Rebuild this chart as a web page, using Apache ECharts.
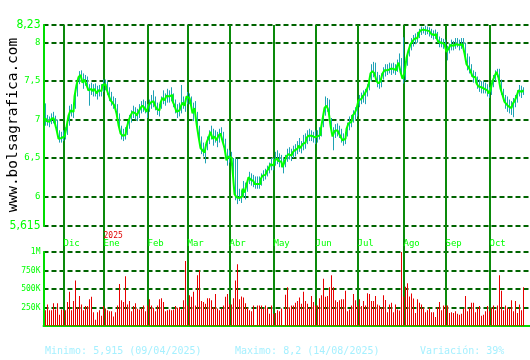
<!DOCTYPE html>
<html><head><meta charset="utf-8">
<script src="https://cdn.jsdelivr.net/npm/echarts@6/dist/echarts.min.js"></script>
<style>html,body{margin:0;padding:0;background:#fff}#c{width:530px;height:360px}</style>
</head><body><div id="c"></div>
<script>
// Daily closes (Nov 2024 - Oct 2025)
const closes = [
7.02,6.98,6.97,7.00,7.02,6.97,6.87,6.75,6.76,6.78,
6.80,6.90,7.05,7.12,7.10,7.30,7.45,7.55,7.58,7.48,
7.52,7.45,7.38,7.40,7.37,7.40,7.34,7.38,7.37,7.45,
7.46,7.40,7.32,7.25,7.22,7.18,7.08,6.93,6.82,6.79,
6.80,6.88,6.98,7.05,7.10,7.08,7.05,7.10,7.15,7.18,
7.15,7.10,7.18,7.22,7.24,7.20,7.14,7.12,7.22,7.28,
7.25,7.31,7.30,7.32,7.24,7.18,7.10,7.12,7.16,7.22,
7.18,7.30,7.28,7.22,7.08,7.15,6.95,6.78,6.63,6.60,
6.57,6.70,6.76,6.84,6.75,6.78,6.73,6.79,6.82,6.72,
6.63,6.47,6.52,6.50,6.35,6.03,5.99,5.98,6.00,6.10,
6.05,6.15,6.25,6.22,6.20,6.16,6.16,6.16,6.22,6.27,
6.28,6.32,6.36,6.42,6.40,6.47,6.49,6.46,6.45,6.38,
6.45,6.52,6.55,6.53,6.57,6.60,6.62,6.66,6.63,6.68,
6.70,6.76,6.79,6.79,6.77,6.76,6.78,6.80,6.85,7.00,
7.15,7.18,7.12,6.92,6.78,6.85,6.86,6.83,6.78,6.73,
6.75,6.88,6.95,6.97,7.05,7.08,7.14,7.25,7.27,7.30,
7.33,7.38,7.45,7.60,7.63,7.60,7.50,7.47,7.50,7.60,
7.64,7.64,7.66,7.65,7.66,7.64,7.68,7.74,7.62,7.53,
7.60,7.80,7.90,7.98,8.02,8.05,8.06,8.12,8.16,8.17,
8.16,8.17,8.15,8.12,8.10,8.11,8.06,8.01,8.00,7.98,
7.96,7.88,7.92,7.97,7.96,7.98,8.00,7.97,7.98,8.00,
7.86,7.72,7.68,7.63,7.56,7.55,7.47,7.43,7.42,7.40,
7.40,7.38,7.34,7.38,7.50,7.56,7.62,7.55,7.40,7.32,
7.23,7.20,7.17,7.15,7.20,7.24,7.30,7.38,7.36,7.38
];
const highs = [
7.21,7.06,7.04,7.08,7.10,7.05,7.00,6.86,6.84,6.86,
6.90,7.00,7.18,7.20,7.22,7.38,7.52,7.63,7.64,7.60,
7.58,7.56,7.46,7.48,7.46,7.47,7.44,7.45,7.46,7.52,
7.52,7.50,7.42,7.36,7.30,7.28,7.20,7.08,6.92,6.88,
6.90,6.98,7.06,7.12,7.18,7.16,7.14,7.20,7.24,7.26,
7.24,7.20,7.26,7.32,7.38,7.30,7.22,7.20,7.30,7.38,
7.34,7.40,7.38,7.42,7.34,7.26,7.20,7.22,7.45,7.30,
7.28,7.36,7.34,7.30,7.22,7.24,7.10,6.92,6.78,6.70,
6.68,6.78,6.86,6.92,6.88,6.86,6.84,6.88,6.90,6.84,
6.75,6.62,6.60,6.58,6.50,6.49,6.49,6.10,6.08,6.20,
6.18,6.22,6.32,6.30,6.28,6.26,6.26,6.26,6.30,6.34,
6.36,6.40,6.44,6.50,6.50,6.58,6.60,6.56,6.54,6.50,
6.54,6.62,6.64,6.62,6.66,6.68,6.72,6.76,6.72,6.80,
6.82,6.86,6.88,6.86,6.84,6.86,6.86,6.90,6.95,7.08,
7.30,7.28,7.26,7.02,6.90,6.94,6.95,6.92,6.88,6.82,
6.84,6.96,7.04,7.06,7.12,7.16,7.22,7.32,7.35,7.38,
7.40,7.46,7.55,7.72,7.75,7.74,7.62,7.58,7.60,7.68,
7.72,7.72,7.74,7.73,7.74,7.72,7.78,7.86,7.80,8.07,
7.72,7.88,7.98,8.06,8.10,8.12,8.14,8.18,8.21,8.20,
8.22,8.21,8.20,8.18,8.16,8.17,8.14,8.08,8.06,8.05,
8.04,7.96,7.99,8.04,8.02,8.06,8.06,8.04,8.06,8.06,
8.00,7.86,7.82,7.72,7.64,7.62,7.56,7.52,7.50,7.50,
7.48,7.46,7.42,7.46,7.58,7.64,7.66,7.66,7.52,7.40,
7.32,7.30,7.26,7.24,7.28,7.32,7.38,7.45,7.44,7.42
];
const lows = [
6.92,6.92,6.90,6.94,6.95,6.90,6.80,6.70,6.70,6.72,
6.74,6.80,6.92,7.04,7.02,7.14,7.30,7.46,7.50,7.40,
7.44,7.38,7.18,7.32,7.30,7.30,7.26,7.30,7.30,7.36,
7.38,7.32,7.24,7.18,7.14,7.10,6.98,6.85,6.74,6.72,
6.74,6.80,6.88,6.96,7.02,7.00,6.98,7.02,7.08,7.10,
7.08,7.02,7.10,7.14,7.16,7.12,7.06,7.04,7.14,7.20,
7.18,7.22,7.22,7.24,7.16,7.08,7.02,7.04,7.08,7.14,
7.10,7.20,7.20,7.12,6.98,7.05,6.85,6.68,6.55,6.52,
6.43,6.60,6.68,6.74,6.66,6.70,6.64,6.70,6.74,6.64,
6.55,6.40,6.44,6.40,6.22,5.95,5.90,5.94,5.915,6.00,
5.96,6.06,6.16,6.14,6.12,6.10,6.10,6.10,6.14,6.20,
6.22,6.26,6.30,6.34,6.34,6.40,6.42,6.38,6.38,6.30,
6.38,6.45,6.48,6.46,6.50,6.52,6.55,6.58,6.56,6.60,
6.62,6.68,6.72,6.72,6.70,6.68,6.70,6.74,6.78,6.90,
7.05,7.10,7.02,6.82,6.60,6.76,6.78,6.76,6.70,6.66,
6.68,6.78,6.86,6.90,6.96,7.00,7.04,7.16,7.20,7.22,
7.20,7.30,7.38,7.50,7.55,7.52,7.42,7.40,7.42,7.52,
7.56,7.58,7.60,7.58,7.60,7.58,7.62,7.66,7.55,7.47,
7.50,7.70,7.82,7.90,7.95,7.98,8.00,8.06,8.10,8.12,
8.10,8.11,8.08,8.06,8.04,8.05,8.00,7.94,7.94,7.92,
7.90,7.77,7.86,7.90,7.90,7.92,7.94,7.90,7.92,7.94,
7.80,7.64,7.60,7.56,7.48,7.48,7.40,7.36,7.34,7.34,
7.34,7.30,7.28,7.32,7.42,7.50,7.55,7.48,7.32,7.24,
7.14,7.10,7.08,7.06,7.03,7.16,7.22,7.30,7.28,7.32
];
// Daily volume, thousands of shares
const volumesK = [
213,292,213,213,306,222,306,153,222,213,
213,324,463,213,338,616,255,407,292,213,
269,269,361,394,185,83,185,213,139,269,
236,213,199,199,130,185,278,569,347,324,
671,292,338,199,269,306,232,222,245,278,
199,278,361,278,245,199,278,361,375,324,
199,213,222,213,222,269,245,255,222,347,
880,278,417,394,463,278,685,755,338,324,
301,375,375,347,255,431,236,213,236,278,
394,431,292,292,375,616,833,361,398,384,
306,245,213,199,278,14,278,278,
278,232,278,245,167,278,167,176,213,199,
236,14,421,523,255,278,278,315,338,384,
301,463,338,301,245,407,324,278,278,375,
417,639,394,407,523,685,523,347,324,347,
361,361,477,199,222,278,431,347,278,361,
269,338,278,444,431,338,338,407,292,278,
255,417,352,185,292,315,185,292,222,208,
1056,398,532,579,398,440,370,176,361,315,
292,245,185,213,245,185,185,120,255,324,
213,278,278,278,176,185,176,199,167,153,
167,232,407,199,245,315,315,185,245,269,
139,153,199,269,199,245,278,213,278,685,
477,213,278,245,232,347,199,338,176,292,
213,523
];
const monthLabels = ['Dic','Ene','Feb','Mar','Abr','May','Jun','Jul','Ago','Sep','Oct'];
const monthStartDay = [9,29,51,71,92,114,135,156,179,200,222];
const yearLabel = '2025';
const yearMonth = 'Ene';
const priceTicks = [5.615,6,6.5,7,7.5,8,8.23];
const priceMin = 5.615, priceMax = 8.23;
const statMin = 5.915, statMinDate = '09/04/2025';
const statMax = 8.2, statMaxDate = '14/08/2025';
const statVariation = 39;
const siteName = 'www.bolsagrafica.com';

// category slots: one empty slot before the data and three after
const lead = 1, tail = 3;
const nCat = lead + closes.length + tail;
const cats = new Array(nCat).fill('');
monthStartDay.forEach((d, k) => { cats[d + lead] = monthLabels[k]; });
const isStart = i => cats[i] !== '';

const candleData = closes.map((c, i) => [i + lead, c, c, lows[i], highs[i]]);
const lineData = closes.map((c, i) => [i + lead, c]);
const volData = volumesK.map((v, i) => [i + lead, v]);
const comma = v => String(v).replace('.', ',');

const mono = '"DejaVu Sans Mono", monospace';
const G = '#00ff00';
const dash = { type: [5, 3], color: '#006400', width: 2 };
const L = 43.5, R = 0.5;
const grids = [
  { left: L, right: R, top: 25, bottom: 34 },
  { left: L, right: R, top: 25, height: 201 },
  { left: L, right: R, top: 252, bottom: 34 }
];
const chart = echarts.init(document.getElementById('c'), null, { renderer: 'canvas' });
chart.setOption({
  animation: false,
  backgroundColor: '#ffffff',
  grid: grids,
  xAxis: [
    { gridIndex: 0, type: 'category', data: cats, boundaryGap: false,
      axisLine: { show: false }, axisTick: { show: false }, axisLabel: { show: false },
      splitLine: { show: true, interval: (i) => isStart(i), lineStyle: { color: '#0a8a0a', width: 2 } } },
    { gridIndex: 1, type: 'category', data: cats, boundaryGap: false,
      axisLine: { show: false }, axisTick: { show: false }, splitLine: { show: false },
      axisLabel: { show: true, interval: (i) => isStart(i), align: 'left', margin: 6,
        formatter: (v) => v === yearMonth ? '{y|' + yearLabel + '}\n{m|' + v + '}' : '{y| }\n{m|' + v + '}',
        rich: {
          y: { color: '#e00000', fontFamily: mono, fontSize: 8, lineHeight: 8, align: 'left' },
          m: { color: G, fontFamily: mono, fontSize: 9, lineHeight: 8, align: 'left' }
        } } },
    { gridIndex: 2, type: 'category', data: cats, boundaryGap: false,
      axisLine: { show: true, onZero: false, lineStyle: { color: '#00dd00', width: 2 } },
      axisTick: { show: false }, axisLabel: { show: false }, splitLine: { show: false } }
  ],
  yAxis: [
    { gridIndex: 0, type: 'value', show: false, min: 0, max: 1 },
    { gridIndex: 1, type: 'value', min: priceMin, max: priceMax,
      axisLine: { show: true, lineStyle: { color: '#00dd00', width: 2 } },
      axisTick: { show: false, customValues: priceTicks },
      axisLabel: { customValues: priceTicks, margin: 3,
        formatter: (v) => (v === priceMin || v === priceMax) ? '{b|' + comma(v) + '}' : '{s|' + comma(v) + '}',
        rich: {
          b: { color: G, fontFamily: '"DejaVu Sans Condensed", "DejaVu Sans", sans-serif', fontSize: 12 },
          s: { color: G, fontFamily: mono, fontSize: 9 }
        } },
      splitLine: { show: true, lineStyle: dash } },
    { gridIndex: 2, type: 'value', min: 0, max: 1000, interval: 250,
      axisLine: { show: true, lineStyle: { color: '#00dd00', width: 2 } },
      axisTick: { show: false },
      axisLabel: { margin: 3, color: G, fontFamily: mono, fontSize: 8,
        formatter: (v) => v === 0 ? '' : (v >= 1000 ? (v / 1000) + 'M' : v + 'K') },
      splitLine: { show: true, lineStyle: dash } }
  ],
  series: [
    { type: 'candlestick', xAxisIndex: 1, yAxisIndex: 1, data: candleData,
      encode: { x: 0, y: [1, 2, 3, 4] }, barWidth: 1, barMaxWidth: 1,
      itemStyle: { color: '#1ea2b4', color0: '#1ea2b4', borderColor: '#1ea2b4', borderColor0: '#1ea2b4', borderWidth: 1 } },
    { type: 'line', xAxisIndex: 1, yAxisIndex: 1, data: lineData, showSymbol: false,
      step: 'middle', lineStyle: { color: G, width: 2 }, z: 5 },
    { type: 'bar', xAxisIndex: 2, yAxisIndex: 2, data: volData, barWidth: 1,
      itemStyle: { color: '#e80000' } }
  ],
  graphic: [
    { type: 'text', x: 13, y: 125, rotation: Math.PI / 2,
      style: { text: siteName, font: '14.5px "DejaVu Sans Mono"', fill: '#000', align: 'center', verticalAlign: 'middle' } },
    { type: 'text', x: 45, y: 351,
      style: { text: 'Minimo: ' + comma(statMin) + ' (' + statMinDate + ')', font: '10px "DejaVu Sans Mono"', fill: '#a6f0ff', verticalAlign: 'middle' } },
    { type: 'text', x: 235, y: 351,
      style: { text: 'Maximo: ' + comma(statMax) + ' (' + statMaxDate + ')', font: '10px "DejaVu Sans Mono"', fill: '#a6f0ff', verticalAlign: 'middle' } },
    { type: 'text', x: 420, y: 351,
      style: { text: 'Variación: ' + statVariation + '%', font: '10px "DejaVu Sans Mono"', fill: '#a6f0ff', verticalAlign: 'middle' } }
  ]
});
</script></body></html>
